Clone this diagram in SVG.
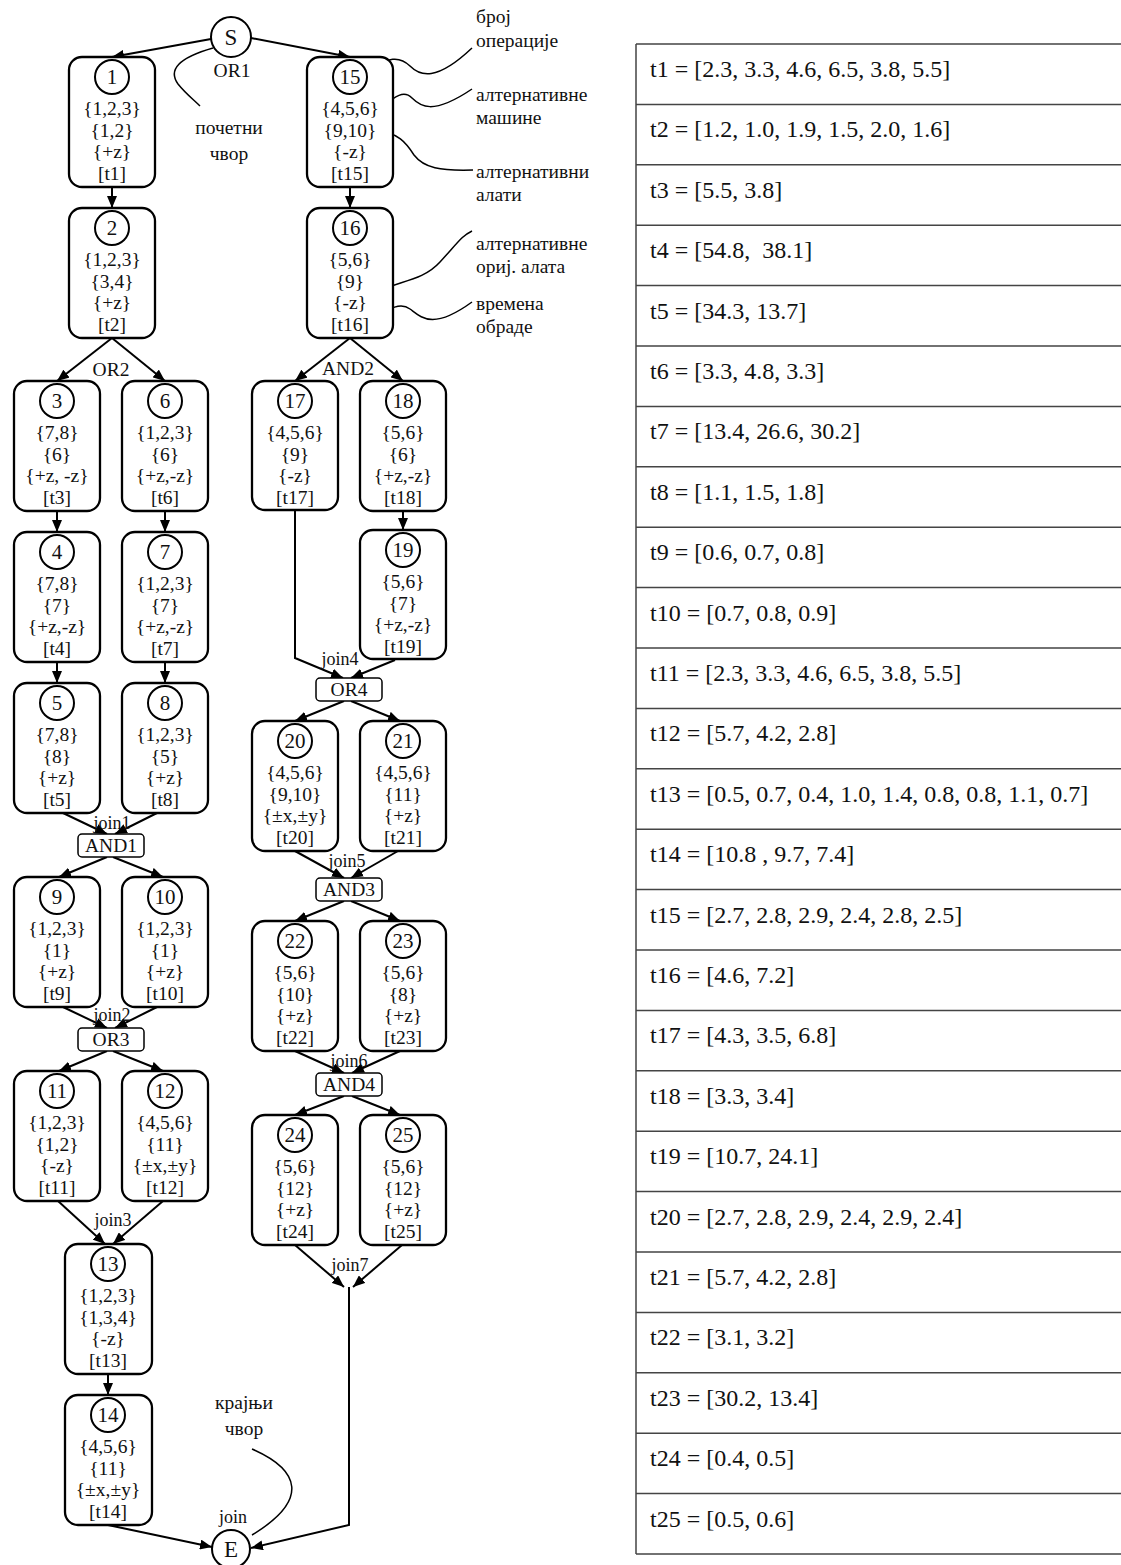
<svg xmlns="http://www.w3.org/2000/svg" width="1121" height="1565" viewBox="0 0 1121 1565">
<style>
text{font-family:"Liberation Serif","DejaVu Serif",serif;fill:#111}
.t{font-size:19.5px;text-anchor:middle}
.l{font-size:19.5px;text-anchor:start}
.j{font-size:18px;text-anchor:middle}
.tt{font-size:24px;text-anchor:start}
.box{fill:#fff;stroke:#000;stroke-width:2.3}
.num{fill:#fff;stroke:#000;stroke-width:2}
.gate{fill:#fff;stroke:#000;stroke-width:1.5}
.e{fill:none;stroke:#000;stroke-width:2;marker-end:url(#arr)}
.ann{fill:none;stroke:#000;stroke-width:1.5}
.tbl{stroke:#444;stroke-width:1.5;fill:none}
.n text:nth-of-type(1){font-size:21px}
</style>
<defs>
<marker id="arr" markerUnits="userSpaceOnUse" markerWidth="13" markerHeight="10" refX="12" refY="5" orient="auto"><path d="M0,0 L12,5 L0,10 z" fill="#000"/></marker>
</defs>

<g id="connectors">
<path class="e" d="M211,39 L112,57"/>
<path class="e" d="M251,38 L350,57"/>
<path class="e" d="M112,187 L112,208"/>
<path class="e" d="M350,187 L350,208"/>
<path class="e" d="M112,338 L57,381"/>
<path class="e" d="M112,338 L165,381"/>
<path class="e" d="M350,338 L295,381"/>
<path class="e" d="M350,338 L403,381"/>
<path class="e" d="M57,511 L57,532"/>
<path class="e" d="M57,662 L57,683"/>
<path class="e" d="M165,511 L165,532"/>
<path class="e" d="M165,662 L165,683"/>
<path class="e" d="M63,813 L107,834"/>
<path class="e" d="M157,813 L115,834"/>
<path class="e" d="M107,857 L59,877"/>
<path class="e" d="M113,857 L163,877"/>
<path class="e" d="M63,1007 L107,1028"/>
<path class="e" d="M157,1007 L115,1028"/>
<path class="e" d="M107,1051 L59,1071"/>
<path class="e" d="M113,1051 L163,1071"/>
<path class="e" d="M58,1201 L105,1244"/>
<path class="e" d="M163,1201 L113,1244"/>
<path class="e" d="M108,1374 L108,1395"/>
<path class="e" d="M108,1525 L212,1547"/>
<path class="e" d="M295,510 L295,658 L343,678"/>
<path class="e" d="M403,511 L403,530"/>
<path class="e" d="M395,660 L351,678"/>
<path class="e" d="M344,701 L295,721"/>
<path class="e" d="M351,701 L400,721"/>
<path class="e" d="M295,851 L344,878"/>
<path class="e" d="M398,851 L351,878"/>
<path class="e" d="M344,901 L295,921"/>
<path class="e" d="M351,901 L400,921"/>
<path class="e" d="M295,1051 L344,1073"/>
<path class="e" d="M400,1051 L352,1073"/>
<path class="e" d="M344,1096 L295,1115"/>
<path class="e" d="M352,1096 L400,1115"/>
<path class="e" d="M295,1245 L344,1287"/>
<path class="e" d="M402,1245 L353,1287"/>
<path class="e" d="M349,1287 L349,1525 L251,1548"/>
</g>

<g id="labels">
<text class="t" x="232" y="77">OR1</text>
<text class="t" x="111" y="376">OR2</text>
<text class="t" x="348" y="375">AND2</text>
<text class="j" x="112" y="829">join1</text>
<text class="j" x="112" y="1021">join2</text>
<text class="j" x="113" y="1226">join3</text>
<text class="j" x="340" y="665">join4</text>
<text class="j" x="347" y="867">join5</text>
<text class="j" x="349" y="1067">join6</text>
<text class="j" x="350" y="1271">join7</text>
<text class="j" x="233" y="1523">join</text>
</g>

<g id="annotations">
<path class="ann" d="M213,48 C178,58 168,70 178,84 C186,94 194,100 200,106"/>
<text class="t" x="229" y="134">почетни</text>
<text class="t" x="229" y="160">чвор</text>
<path class="ann" d="M252,1449 C300,1470 310,1500 252,1535"/>
<text class="t" x="244" y="1409">крајњи</text>
<text class="t" x="244" y="1435">чвор</text>
<path class="ann" d="M367,72 C388,56 400,56 410,66 S436,82 472,48"/>
<path class="ann" d="M383,107 C395,96 404,90 412,98 S432,116 472,89"/>
<path class="ann" d="M374,131 C398,131 407,144 414,155 C424,168 440,171 473,170"/>
<path class="ann" d="M369,297 C392,280 420,284 440,262 S462,236 472,231"/>
<path class="ann" d="M370,320 C386,311 399,301 410,309 S432,331 472,302"/>
<text class="l" x="476" y="23">број</text>
<text class="l" x="476" y="47">операције</text>
<text class="l" x="476" y="101">алтернативне</text>
<text class="l" x="476" y="124">машине</text>
<text class="l" x="476" y="178">алтернативни</text>
<text class="l" x="476" y="201">алати</text>
<text class="l" x="476" y="250">алтернативне</text>
<text class="l" x="476" y="273">ориј. алата</text>
<text class="l" x="476" y="310">времена</text>
<text class="l" x="476" y="333">обраде</text>
</g>

<g id="S"><circle class="num" cx="231" cy="37" r="20"/><text class="t" x="231" y="45" style="font-size:23px">S</text></g>
<g id="E"><circle class="num" cx="231" cy="1549" r="19"/><text class="t" x="231" y="1557" style="font-size:23px">E</text></g>

<g id="n1" class="n"><rect class="box" x="69" y="57" width="86" height="130" rx="13"/><circle class="num" cx="112" cy="77" r="17"/><text class="t" x="112" y="84">1</text><text class="t" x="112" y="115">{1,2,3}</text><text class="t" x="112" y="137">{1,2}</text><text class="t" x="112" y="158">{+z}</text><text class="t" x="112" y="180">[t1]</text></g>
<g id="n2" class="n"><rect class="box" x="69" y="208" width="86" height="130" rx="13"/><circle class="num" cx="112" cy="228" r="17"/><text class="t" x="112" y="235">2</text><text class="t" x="112" y="266">{1,2,3}</text><text class="t" x="112" y="288">{3,4}</text><text class="t" x="112" y="309">{+z}</text><text class="t" x="112" y="331">[t2]</text></g>
<g id="n3" class="n"><rect class="box" x="14" y="381" width="86" height="130" rx="13"/><circle class="num" cx="57" cy="401" r="17"/><text class="t" x="57" y="408">3</text><text class="t" x="57" y="439">{7,8}</text><text class="t" x="57" y="461">{6}</text><text class="t" x="57" y="482">{+z, -z}</text><text class="t" x="57" y="504">[t3]</text></g>
<g id="n4" class="n"><rect class="box" x="14" y="532" width="86" height="130" rx="13"/><circle class="num" cx="57" cy="552" r="17"/><text class="t" x="57" y="559">4</text><text class="t" x="57" y="590">{7,8}</text><text class="t" x="57" y="612">{7}</text><text class="t" x="57" y="633">{+z,-z}</text><text class="t" x="57" y="655">[t4]</text></g>
<g id="n5" class="n"><rect class="box" x="14" y="683" width="86" height="130" rx="13"/><circle class="num" cx="57" cy="703" r="17"/><text class="t" x="57" y="710">5</text><text class="t" x="57" y="741">{7,8}</text><text class="t" x="57" y="763">{8}</text><text class="t" x="57" y="784">{+z}</text><text class="t" x="57" y="806">[t5]</text></g>
<g id="n6" class="n"><rect class="box" x="122" y="381" width="86" height="130" rx="13"/><circle class="num" cx="165" cy="401" r="17"/><text class="t" x="165" y="408">6</text><text class="t" x="165" y="439">{1,2,3}</text><text class="t" x="165" y="461">{6}</text><text class="t" x="165" y="482">{+z,-z}</text><text class="t" x="165" y="504">[t6]</text></g>
<g id="n7" class="n"><rect class="box" x="122" y="532" width="86" height="130" rx="13"/><circle class="num" cx="165" cy="552" r="17"/><text class="t" x="165" y="559">7</text><text class="t" x="165" y="590">{1,2,3}</text><text class="t" x="165" y="612">{7}</text><text class="t" x="165" y="633">{+z,-z}</text><text class="t" x="165" y="655">[t7]</text></g>
<g id="n8" class="n"><rect class="box" x="122" y="683" width="86" height="130" rx="13"/><circle class="num" cx="165" cy="703" r="17"/><text class="t" x="165" y="710">8</text><text class="t" x="165" y="741">{1,2,3}</text><text class="t" x="165" y="763">{5}</text><text class="t" x="165" y="784">{+z}</text><text class="t" x="165" y="806">[t8]</text></g>
<g id="AND1"><rect class="gate" x="78" y="834" width="66" height="23" rx="4"/><text class="t" x="111" y="852">AND1</text></g>
<g id="n9" class="n"><rect class="box" x="14" y="877" width="86" height="130" rx="13"/><circle class="num" cx="57" cy="897" r="17"/><text class="t" x="57" y="904">9</text><text class="t" x="57" y="935">{1,2,3}</text><text class="t" x="57" y="957">{1}</text><text class="t" x="57" y="978">{+z}</text><text class="t" x="57" y="1000">[t9]</text></g>
<g id="n10" class="n"><rect class="box" x="122" y="877" width="86" height="130" rx="13"/><circle class="num" cx="165" cy="897" r="17"/><text class="t" x="165" y="904">10</text><text class="t" x="165" y="935">{1,2,3}</text><text class="t" x="165" y="957">{1}</text><text class="t" x="165" y="978">{+z}</text><text class="t" x="165" y="1000">[t10]</text></g>
<g id="OR3"><rect class="gate" x="78" y="1028" width="66" height="23" rx="4"/><text class="t" x="111" y="1046">OR3</text></g>
<g id="n11" class="n"><rect class="box" x="14" y="1071" width="86" height="130" rx="13"/><circle class="num" cx="57" cy="1091" r="17"/><text class="t" x="57" y="1098">11</text><text class="t" x="57" y="1129">{1,2,3}</text><text class="t" x="57" y="1151">{1,2}</text><text class="t" x="57" y="1172">{-z}</text><text class="t" x="57" y="1194">[t11]</text></g>
<g id="n12" class="n"><rect class="box" x="122" y="1071" width="86" height="130" rx="13"/><circle class="num" cx="165" cy="1091" r="17"/><text class="t" x="165" y="1098">12</text><text class="t" x="165" y="1129">{4,5,6}</text><text class="t" x="165" y="1151">{11}</text><text class="t" x="165" y="1172">{±x,±y}</text><text class="t" x="165" y="1194">[t12]</text></g>
<g id="n13" class="n"><rect class="box" x="65" y="1244" width="87" height="130" rx="13"/><circle class="num" cx="108" cy="1264" r="17"/><text class="t" x="108" y="1271">13</text><text class="t" x="108" y="1302">{1,2,3}</text><text class="t" x="108" y="1324">{1,3,4}</text><text class="t" x="108" y="1345">{-z}</text><text class="t" x="108" y="1367">[t13]</text></g>
<g id="n14" class="n"><rect class="box" x="65" y="1395" width="87" height="130" rx="13"/><circle class="num" cx="108" cy="1415" r="17"/><text class="t" x="108" y="1422">14</text><text class="t" x="108" y="1453">{4,5,6}</text><text class="t" x="108" y="1475">{11}</text><text class="t" x="108" y="1496">{±x,±y}</text><text class="t" x="108" y="1518">[t14]</text></g>

<g id="n15" class="n"><rect class="box" x="307" y="57" width="86" height="130" rx="13"/><circle class="num" cx="350" cy="77" r="17"/><text class="t" x="350" y="84">15</text><text class="t" x="350" y="115">{4,5,6}</text><text class="t" x="350" y="137">{9,10}</text><text class="t" x="350" y="158">{-z}</text><text class="t" x="350" y="180">[t15]</text></g>
<g id="n16" class="n"><rect class="box" x="307" y="208" width="86" height="130" rx="13"/><circle class="num" cx="350" cy="228" r="17"/><text class="t" x="350" y="235">16</text><text class="t" x="350" y="266">{5,6}</text><text class="t" x="350" y="288">{9}</text><text class="t" x="350" y="309">{-z}</text><text class="t" x="350" y="331">[t16]</text></g>
<g id="n17" class="n"><rect class="box" x="252" y="381" width="86" height="129" rx="13"/><circle class="num" cx="295" cy="401" r="17"/><text class="t" x="295" y="408">17</text><text class="t" x="295" y="439">{4,5,6}</text><text class="t" x="295" y="461">{9}</text><text class="t" x="295" y="482">{-z}</text><text class="t" x="295" y="504">[t17]</text></g>
<g id="n18" class="n"><rect class="box" x="360" y="381" width="86" height="130" rx="13"/><circle class="num" cx="403" cy="401" r="17"/><text class="t" x="403" y="408">18</text><text class="t" x="403" y="439">{5,6}</text><text class="t" x="403" y="461">{6}</text><text class="t" x="403" y="482">{+z,-z}</text><text class="t" x="403" y="504">[t18]</text></g>
<g id="n19" class="n"><rect class="box" x="360" y="530" width="86" height="129" rx="13"/><circle class="num" cx="403" cy="550" r="17"/><text class="t" x="403" y="557">19</text><text class="t" x="403" y="588">{5,6}</text><text class="t" x="403" y="610">{7}</text><text class="t" x="403" y="631">{+z,-z}</text><text class="t" x="403" y="653">[t19]</text></g>
<g id="OR4"><rect class="gate" x="316" y="678" width="66" height="23" rx="4"/><text class="t" x="349" y="696">OR4</text></g>
<g id="n20" class="n"><rect class="box" x="252" y="721" width="86" height="130" rx="13"/><circle class="num" cx="295" cy="741" r="17"/><text class="t" x="295" y="748">20</text><text class="t" x="295" y="779">{4,5,6}</text><text class="t" x="295" y="801">{9,10}</text><text class="t" x="295" y="822">{±x,±y}</text><text class="t" x="295" y="844">[t20]</text></g>
<g id="n21" class="n"><rect class="box" x="360" y="721" width="86" height="130" rx="13"/><circle class="num" cx="403" cy="741" r="17"/><text class="t" x="403" y="748">21</text><text class="t" x="403" y="779">{4,5,6}</text><text class="t" x="403" y="801">{11}</text><text class="t" x="403" y="822">{+z}</text><text class="t" x="403" y="844">[t21]</text></g>
<g id="AND3"><rect class="gate" x="316" y="878" width="66" height="23" rx="4"/><text class="t" x="349" y="896">AND3</text></g>
<g id="n22" class="n"><rect class="box" x="252" y="921" width="86" height="130" rx="13"/><circle class="num" cx="295" cy="941" r="17"/><text class="t" x="295" y="948">22</text><text class="t" x="295" y="979">{5,6}</text><text class="t" x="295" y="1001">{10}</text><text class="t" x="295" y="1022">{+z}</text><text class="t" x="295" y="1044">[t22]</text></g>
<g id="n23" class="n"><rect class="box" x="360" y="921" width="86" height="130" rx="13"/><circle class="num" cx="403" cy="941" r="17"/><text class="t" x="403" y="948">23</text><text class="t" x="403" y="979">{5,6}</text><text class="t" x="403" y="1001">{8}</text><text class="t" x="403" y="1022">{+z}</text><text class="t" x="403" y="1044">[t23]</text></g>
<g id="AND4"><rect class="gate" x="316" y="1073" width="66" height="23" rx="4"/><text class="t" x="349" y="1091">AND4</text></g>
<g id="n24" class="n"><rect class="box" x="252" y="1115" width="86" height="130" rx="13"/><circle class="num" cx="295" cy="1135" r="17"/><text class="t" x="295" y="1142">24</text><text class="t" x="295" y="1173">{5,6}</text><text class="t" x="295" y="1195">{12}</text><text class="t" x="295" y="1216">{+z}</text><text class="t" x="295" y="1238">[t24]</text></g>
<g id="n25" class="n"><rect class="box" x="360" y="1115" width="86" height="130" rx="13"/><circle class="num" cx="403" cy="1135" r="17"/><text class="t" x="403" y="1142">25</text><text class="t" x="403" y="1173">{5,6}</text><text class="t" x="403" y="1195">{12}</text><text class="t" x="403" y="1216">{+z}</text><text class="t" x="403" y="1238">[t25]</text></g>

<g id="table">
<path class="tbl" d="M636,44 V1554 M636,44 H1121 M636,104.4 H1121 M636,164.8 H1121 M636,225.2 H1121 M636,285.6 H1121 M636,346 H1121 M636,406.4 H1121 M636,466.8 H1121 M636,527.2 H1121 M636,587.6 H1121 M636,648 H1121 M636,708.4 H1121 M636,768.8 H1121 M636,829.2 H1121 M636,889.6 H1121 M636,950 H1121 M636,1010.4 H1121 M636,1070.8 H1121 M636,1131.2 H1121 M636,1191.6 H1121 M636,1252 H1121 M636,1312.4 H1121 M636,1372.8 H1121 M636,1433.2 H1121 M636,1493.6 H1121 M636,1554 H1121"/>
<text class="tt" x="650" y="77">t1 = [2.3, 3.3, 4.6, 6.5, 3.8, 5.5]</text>
<text class="tt" x="650" y="137.4">t2 = [1.2, 1.0, 1.9, 1.5, 2.0, 1.6]</text>
<text class="tt" x="650" y="197.8">t3 = [5.5, 3.8]</text>
<text class="tt" x="650" y="258.2" xml:space="preserve">t4 = [54.8,  38.1]</text>
<text class="tt" x="650" y="318.6">t5 = [34.3, 13.7]</text>
<text class="tt" x="650" y="379">t6 = [3.3, 4.8, 3.3]</text>
<text class="tt" x="650" y="439.4">t7 = [13.4, 26.6, 30.2]</text>
<text class="tt" x="650" y="499.8">t8 = [1.1, 1.5, 1.8]</text>
<text class="tt" x="650" y="560.2">t9 = [0.6, 0.7, 0.8]</text>
<text class="tt" x="650" y="620.6">t10 = [0.7, 0.8, 0.9]</text>
<text class="tt" x="650" y="681">t11 = [2.3, 3.3, 4.6, 6.5, 3.8, 5.5]</text>
<text class="tt" x="650" y="741.4">t12 = [5.7, 4.2, 2.8]</text>
<text class="tt" x="650" y="801.8">t13 = [0.5, 0.7, 0.4, 1.0, 1.4, 0.8, 0.8, 1.1, 0.7]</text>
<text class="tt" x="650" y="862.2">t14 = [10.8 , 9.7, 7.4]</text>
<text class="tt" x="650" y="922.6">t15 = [2.7, 2.8, 2.9, 2.4, 2.8, 2.5]</text>
<text class="tt" x="650" y="983">t16 = [4.6, 7.2]</text>
<text class="tt" x="650" y="1043.4">t17 = [4.3, 3.5, 6.8]</text>
<text class="tt" x="650" y="1103.8">t18 = [3.3, 3.4]</text>
<text class="tt" x="650" y="1164.2">t19 = [10.7, 24.1]</text>
<text class="tt" x="650" y="1224.6">t20 = [2.7, 2.8, 2.9, 2.4, 2.9, 2.4]</text>
<text class="tt" x="650" y="1285">t21 = [5.7, 4.2, 2.8]</text>
<text class="tt" x="650" y="1345.4">t22 = [3.1, 3.2]</text>
<text class="tt" x="650" y="1405.8">t23 = [30.2, 13.4]</text>
<text class="tt" x="650" y="1466.2">t24 = [0.4, 0.5]</text>
<text class="tt" x="650" y="1526.6">t25 = [0.5, 0.6]</text>
</g>
</svg>
